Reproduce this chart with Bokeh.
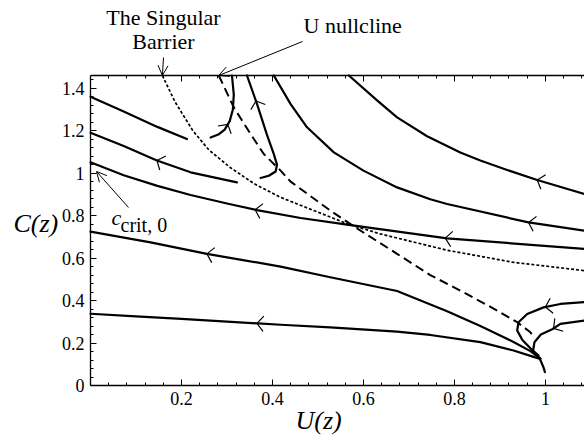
import numpy as np
from bokeh.plotting import figure
from bokeh.models import LinearAxis, FixedTicker, Label, Arrow, OpenHead, Range1d
from bokeh.embed import file_html
from bokeh.resources import INLINE

# ---------------- data ----------------
x_ticks = [0.2, 0.4, 0.6, 0.8, 1.0]
x_tick_labels = ["0.2", "0.4", "0.6", "0.8", "1"]
y_ticks = [0.0, 0.2, 0.4, 0.6, 0.8, 1.0, 1.2, 1.4]
y_tick_labels = ["0", "0.2", "0.4", "0.6", "0.8", "1", "1.2", "1.4"]

# solid trajectories (U, C)
traj_a_u = [0.0, 0.10, 0.20, 0.30, 0.418, 0.527, 0.674, 0.747, 0.857, 0.93, 0.974, 0.989]
traj_a_c = [0.338, 0.326, 0.314, 0.301, 0.286, 0.274, 0.254, 0.238, 0.204, 0.165, 0.135, 0.125]

traj_b_u = [0.0, 0.132, 0.256, 0.418, 0.527, 0.674, 0.784, 0.857, 0.93, 0.967, 0.989]
traj_b_c = [0.725, 0.674, 0.62, 0.56, 0.51, 0.445, 0.35, 0.28, 0.205, 0.162, 0.128]

traj_c_u = [0.0, 0.073, 0.147, 0.22, 0.30, 0.366, 0.462, 0.564, 0.784, 1.086]
traj_c_c = [1.051, 0.99, 0.94, 0.897, 0.857, 0.826, 0.789, 0.758, 0.693, 0.643]

traj_d_u = [0.0, 0.073, 0.146, 0.22, 0.322]
traj_d_c = [1.19, 1.128, 1.06, 1.004, 0.957]

traj_e_u = [0.0, 0.073, 0.147, 0.212]
traj_e_c = [1.36, 1.29, 1.218, 1.161]

hook_1_u = [0.311, 0.315, 0.313, 0.306, 0.295, 0.281, 0.264]
hook_1_c = [1.46, 1.37, 1.30, 1.245, 1.205, 1.182, 1.168]

hook_2_u = [0.344, 0.366, 0.388, 0.403, 0.41, 0.407, 0.392, 0.374]
hook_2_c = [1.46, 1.326, 1.18, 1.09, 1.04, 1.008, 0.988, 0.977]

top_1_u = [0.403, 0.44, 0.476, 0.535, 0.6, 0.674, 0.747, 0.784, 0.963, 1.086]
top_1_c = [1.46, 1.325, 1.216, 1.098, 1.012, 0.933, 0.877, 0.855, 0.768, 0.729]

top_2_u = [0.568, 0.63, 0.674, 0.74, 0.813, 0.857, 0.916, 0.982, 1.086]
top_2_c = [1.46, 1.343, 1.263, 1.174, 1.097, 1.06, 1.015, 0.968, 0.902]

right_1_u = [1.086, 1.033, 0.996, 0.96, 0.941, 0.938, 0.949, 0.967, 0.985]
right_1_c = [0.393, 0.384, 0.368, 0.337, 0.298, 0.259, 0.216, 0.175, 0.141]

right_2_u = [1.086, 1.033, 1.015, 0.99, 0.976, 0.973, 0.978, 0.987]
right_2_c = [0.306, 0.29, 0.265, 0.24, 0.204, 0.165, 0.145, 0.128]

tail_u = [0.987, 0.992, 0.996, 0.999]
tail_c = [0.13, 0.105, 0.085, 0.063]

# the singular barrier (dotted) and the U nullcline (dashed)
barrier_u = [0.158, 0.186, 0.225, 0.26, 0.307, 0.36, 0.418, 0.491, 0.564, 0.637, 0.784, 0.93, 1.086]
barrier_c = [1.46, 1.335, 1.2, 1.11, 1.027, 0.95, 0.886, 0.824, 0.762, 0.714, 0.637, 0.58, 0.541]

nullcline_u = [0.282, 0.315, 0.352, 0.381, 0.418, 0.44, 0.527, 0.582, 0.674, 0.747, 0.82, 0.894, 0.938, 0.967, 0.975]
nullcline_c = [1.46, 1.31, 1.184, 1.09, 1.012, 0.96, 0.824, 0.745, 0.62, 0.52, 0.439, 0.353, 0.298, 0.251, 0.225]

curves = {
    "a": (traj_a_u, traj_a_c), "b": (traj_b_u, traj_b_c), "c": (traj_c_u, traj_c_c),
    "d": (traj_d_u, traj_d_c), "e": (traj_e_u, traj_e_c),
    "h1": (hook_1_u, hook_1_c), "h2": (hook_2_u, hook_2_c),
    "t1": (top_1_u, top_1_c), "t2": (top_2_u, top_2_c),
    "r1": (right_1_u, right_1_c), "r2": (right_2_u, right_2_c),
    "tail": (tail_u, tail_c),
}

# direction arrows on the trajectories: (curve, coordinate, value, direction)
arrow_curve = ["a", "b", "c", "c", "d", "t1", "t2", "r1", "r2", "h1", "h2"]
arrow_coord = ["u", "u", "u", "u", "u", "u", "u", "u", "u", "c", "c"]
arrow_value = [0.366, 0.256, 0.362, 0.78, 0.146, 0.963, 0.982, 1.0, 1.018, 1.23, 1.34]
arrow_dir = ["left"] * 9 + ["up", "up"]

# ---------------- layout ----------------
W, H = 584, 441
LEFT, TOP, BOTTOM = 90, 75, 56
X_MAX, Y_MAX = 1.086, 1.46
FW, FH = W - LEFT, H - TOP - BOTTOM
SX, SY = FW / X_MAX, FH / Y_MAX


def to_data(px, py):
    return (px - LEFT) / SX, (H - BOTTOM - py) / SY


x0_canvas, y0_canvas = to_data(0, H)
x1_canvas, y1_canvas = to_data(W, 0)

p = figure(width=W, height=H,
           x_range=Range1d(x0_canvas, x1_canvas), y_range=Range1d(y0_canvas, y1_canvas),
           output_backend="svg", toolbar_location=None,
           min_border_left=0, min_border_right=0, min_border_top=0, min_border_bottom=0)
p.outline_line_color = None
p.grid.visible = False
p.background_fill_color = "white"
p.border_fill_color = "white"

x_minor = [round(0.04 * k, 2) for k in range(1, 28)]
y_minor = [round(0.04 * k, 2) for k in range(1, 37)]


def style_axis(ax, ticks, minor, labels, bounds, loc, show=True):
    ax.ticker = FixedTicker(ticks=ticks, minor_ticks=minor)
    ax.major_label_overrides = {t: (l if show else "") for t, l in zip(ticks, labels)}
    ax.fixed_location = loc
    ax.bounds = bounds
    ax.major_tick_in = 6
    ax.major_tick_out = 0
    ax.minor_tick_in = 3
    ax.minor_tick_out = 0
    ax.axis_line_color = "black"
    ax.axis_line_width = 1.3
    ax.major_tick_line_color = "black"
    ax.minor_tick_line_color = "black"
    ax.major_tick_line_width = 1
    ax.minor_tick_line_width = 1
    ax.major_label_text_font = "Liberation Serif"
    ax.major_label_text_font_size = "18px" if show else "0px"
    ax.major_label_text_color = "black"
    ax.major_label_standoff = 6 if show else 0


style_axis(p.xaxis[0], x_ticks, x_minor, x_tick_labels, (0, X_MAX), 0)
style_axis(p.yaxis[0], y_ticks, y_minor, y_tick_labels, (0, Y_MAX), 0)
top_axis = LinearAxis()
style_axis(top_axis, x_ticks, x_minor, x_tick_labels, (0, X_MAX), Y_MAX, show=False)
p.add_layout(top_axis, "above")

# curves
p.line(barrier_u, barrier_c, line_color="black", line_width=1.7, line_dash="3 2")
p.line(nullcline_u, nullcline_c, line_color="black", line_width=2.0, line_dash="9 5")
for key, (u, c) in curves.items():
    p.line(u, c, line_color="black", line_width=2.2, line_join="round", line_cap="round")

# chevrons
ARM, HALF = 10.0, np.radians(50)
xs_all, ys_all = [], []
for key, coord, val, d in zip(arrow_curve, arrow_coord, arrow_value, arrow_dir):
    u, c = np.array(curves[key][0]), np.array(curves[key][1])
    arr = u if coord == "u" else c
    for i in range(len(arr) - 1):
        if (arr[i] - val) * (arr[i + 1] - val) <= 0:
            break
    f = (val - arr[i]) / (arr[i + 1] - arr[i])
    tu = u[i] + f * (u[i + 1] - u[i])
    tc = c[i] + f * (c[i + 1] - c[i])
    vx, vy = (u[i + 1] - u[i]) * SX, (c[i + 1] - c[i]) * SY
    if (d == "left" and vx > 0) or (d == "up" and vy < 0):
        vx, vy = -vx, -vy
    n = np.hypot(vx, vy)
    bx, by = -vx / n, -vy / n
    for s in (1, -1):
        ang = s * HALF
        rx = bx * np.cos(ang) - by * np.sin(ang)
        ry = bx * np.sin(ang) + by * np.cos(ang)
        xs_all.append([tu, tu + ARM * rx / SX])
        ys_all.append([tc, tc + ARM * ry / SY])
p.multi_line(xs_all, ys_all, line_color="black", line_width=1.2)

# annotations
SERIF = "Liberation Serif"
BASE_FIX = 8  # renderer places the alphabetic baseline lower than requested


def add_text(text, px, py, size, align="left", style="normal"):
    x, y = to_data(px, py - BASE_FIX)
    p.add_layout(Label(x=x, y=y, text=text, text_font=SERIF, text_font_size=size,
                       text_align=align, text_baseline="alphabetic",
                       text_font_style=style, text_color="black"))


add_text("The Singular", 163, 25, "22px", align="center")
add_text("Barrier", 163, 49, "22px", align="center")
add_text("U nullcline", 303, 33, "22px")
add_text("C(z)", 13, 231, "26px", style="italic")
add_text("U(z)", 295, 428, "26px", style="italic")
add_text("c", 111, 225, "22px", style="italic")
add_text("crit, 0", 120, 232, "20px")


def add_arrow(px0, py0, x1, y1):
    x0, y0 = to_data(px0, py0)
    p.add_layout(Arrow(end=OpenHead(size=10, line_width=1, line_color="black"),
                       x_start=x0, y_start=y0, x_end=x1, y_end=y1,
                       line_width=1, line_color="black"))


add_arrow(163, 57, barrier_u[0], Y_MAX)
add_arrow(302, 41, nullcline_u[0], Y_MAX)
cx, cy = to_data(96, 171)
add_arrow(128, 207, cx, cy)

open("out.html", "w").write(file_html(p, INLINE))
